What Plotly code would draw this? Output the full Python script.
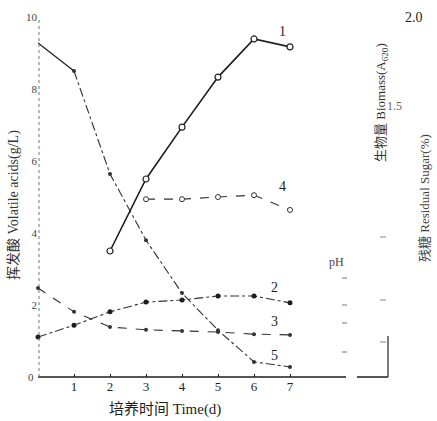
import plotly.graph_objects as go

days = [0, 1, 2, 3, 4, 5, 6, 7]
curve1_days = [2, 3, 4, 5, 6, 7]
curve1 = [3.5, 5.5, 6.94, 8.33, 9.39, 9.17]
curve2 = [1.11, 1.44, 1.81, 2.08, 2.14, 2.25, 2.25, 2.06]
curve3 = [2.47, 1.81, 1.39, 1.31, 1.28, 1.25, 1.19, 1.17]
curve4_days = [3, 4, 5, 6, 7]
curve4 = [4.94, 4.94, 5.0, 5.05, 4.64]
curve5 = [9.28, 8.5, 5.64, 3.8, 2.33, 1.3, 0.42, 0.28]
curve_labels = ["1", "2", "3", "4", "5"]
x_ticks = [1, 2, 3, 4, 5, 6, 7]
y_ticks = [0, 2, 4, 6, 8, 10]

W, H = 437, 421
L, R, T, B = 38, 388, 17, 377
XMAX = (R - L) / 36.0

def px(x):
    return (x - L) / (R - L)

def py(y):
    return (B - y) / (B - T)

INK = "#1e1e1e"
SERIF = "Liberation Serif, Times New Roman, serif"
CJK = "Liberation Serif, Noto Sans CJK SC, serif"

fig = go.Figure()

# curve 5: solid first segment then dash-dot
fig.add_trace(go.Scatter(x=days[:2], y=curve5[:2], mode="lines",
                         line=dict(color=INK, width=1.3), showlegend=False))
fig.add_trace(go.Scatter(x=days[1:], y=curve5[1:], mode="lines+markers",
                         line=dict(color="#333", width=1.1, dash="dashdot"),
                         marker=dict(size=4, color="#333"), showlegend=False))
# curve 1
fig.add_trace(go.Scatter(x=curve1_days, y=curve1, mode="lines+markers",
                         line=dict(color=INK, width=1.6),
                         marker=dict(size=6, color="white", line=dict(color=INK, width=1.2)),
                         showlegend=False))
# curve 4
fig.add_trace(go.Scatter(x=curve4_days, y=curve4, mode="lines+markers",
                         line=dict(color="#333", width=1.1, dash="dash"),
                         marker=dict(size=5, color="white", line=dict(color="#333", width=1)),
                         showlegend=False))
# curve 2
fig.add_trace(go.Scatter(x=days, y=curve2, mode="lines+markers",
                         line=dict(color="#333", width=1.1, dash="dashdot"),
                         marker=dict(size=5, color=INK), showlegend=False))
# curve 3
fig.add_trace(go.Scatter(x=days, y=curve3, mode="lines+markers",
                         line=dict(color="#333", width=1.1, dash="dash"),
                         marker=dict(size=4, color="#333", symbol="circle"), showlegend=False))

annotations = []
label_pos = [(curve1_days[-1] - 0.2, curve1[-2] + 0.2),
             (days[-1] - 0.42, curve2[-1] + 0.42),
             (days[-1] - 0.42, curve3[-1] + 0.36),
             (curve4_days[-1] - 0.22, curve4[-1] + 0.64),
             (days[-1] - 0.42, curve5[-1] + 0.33)]
for lab, (xx, yy) in zip(curve_labels, label_pos):
    annotations.append(dict(x=xx, y=yy, xref="x", yref="y", text=lab, showarrow=False,
                            xanchor="center", yanchor="middle",
                            font=dict(family=SERIF, size=14, color=INK)))

def note(x, y, text, size, color=INK, angle=0, family=SERIF):
    return dict(x=px(x), y=py(y), xref="paper", yref="paper", text=text, showarrow=False,
                xanchor="center", yanchor="middle", textangle=angle,
                font=dict(family=family, size=size, color=color))

annotations += [
    note(165, 410, "培养时间 Time(d)", 15, INK, 0, CJK),
    note(14, 205, "挥发酸 Volatile acids(g/L)", 14, "#333", -90, CJK),
    note(381, 103, "生物量 Biomass(A<sub>620</sub>)", 13, "#333", -90, CJK),
    note(424, 198, "残糖 Residual Sugar(%)", 13, "#444", -90, CJK),
    note(414, 17, "2.0", 14, INK),
    note(394, 106, "1.5", 12, "#666"),
    note(336, 262, "pH", 12, "#444"),
    note(31, 377, "0", 11, "#444"),
]

shapes = [
    dict(type="line", xref="paper", yref="paper", x0=px(38), x1=px(346), y0=py(377), y1=py(377),
         line=dict(color=INK, width=1.5)),
    dict(type="line", xref="paper", yref="paper", x0=px(357), x1=px(388), y0=py(377), y1=py(377),
         line=dict(color=INK, width=1.5)),
    dict(type="line", xref="paper", yref="paper", x0=px(388), x1=px(388), y0=py(377), y1=py(336),
         line=dict(color="#333", width=1.3)),
    dict(type="line", xref="paper", yref="paper", x0=px(39), x1=px(39), y0=py(377), y1=py(20),
         line=dict(color="#777", width=1, dash="dot")),
]
for yy in (278, 305, 323, 352):
    shapes.append(dict(type="line", xref="paper", yref="paper", x0=px(342), x1=px(347),
                       y0=py(yy), y1=py(yy), line=dict(color="#777", width=1)))
for yy in (237, 300, 342):
    shapes.append(dict(type="line", xref="paper", yref="paper", x0=px(380), x1=px(386),
                       y0=py(yy), y1=py(yy), line=dict(color="#888", width=1)))

fig.update_layout(
    width=W, height=H, autosize=False,
    margin=dict(l=L, r=W - R, t=T, b=H - B, pad=0),
    paper_bgcolor="white", plot_bgcolor="white",
    showlegend=False,
    annotations=annotations, shapes=shapes,
    xaxis=dict(range=[0, XMAX], tickvals=x_ticks, ticktext=[str(t) for t in x_ticks],
               showgrid=False, zeroline=False, showline=False,
               ticks="inside", ticklen=3, tickcolor=INK,
               tickfont=dict(family=SERIF, size=13, color=INK)),
    yaxis=dict(range=[0, 10], tickvals=y_ticks[1:], ticktext=[str(t) for t in y_ticks[1:]],
               showgrid=False, zeroline=False, showline=False,
               ticks="", tickfont=dict(family=SERIF, size=11, color="#444")),
)
for tr in fig.data:
    tr.cliponaxis = False

fig.write_html("out.html", config={"displayModeBar": False},
               post_script="document.body.style.margin='0px';document.body.style.overflow='hidden';")
